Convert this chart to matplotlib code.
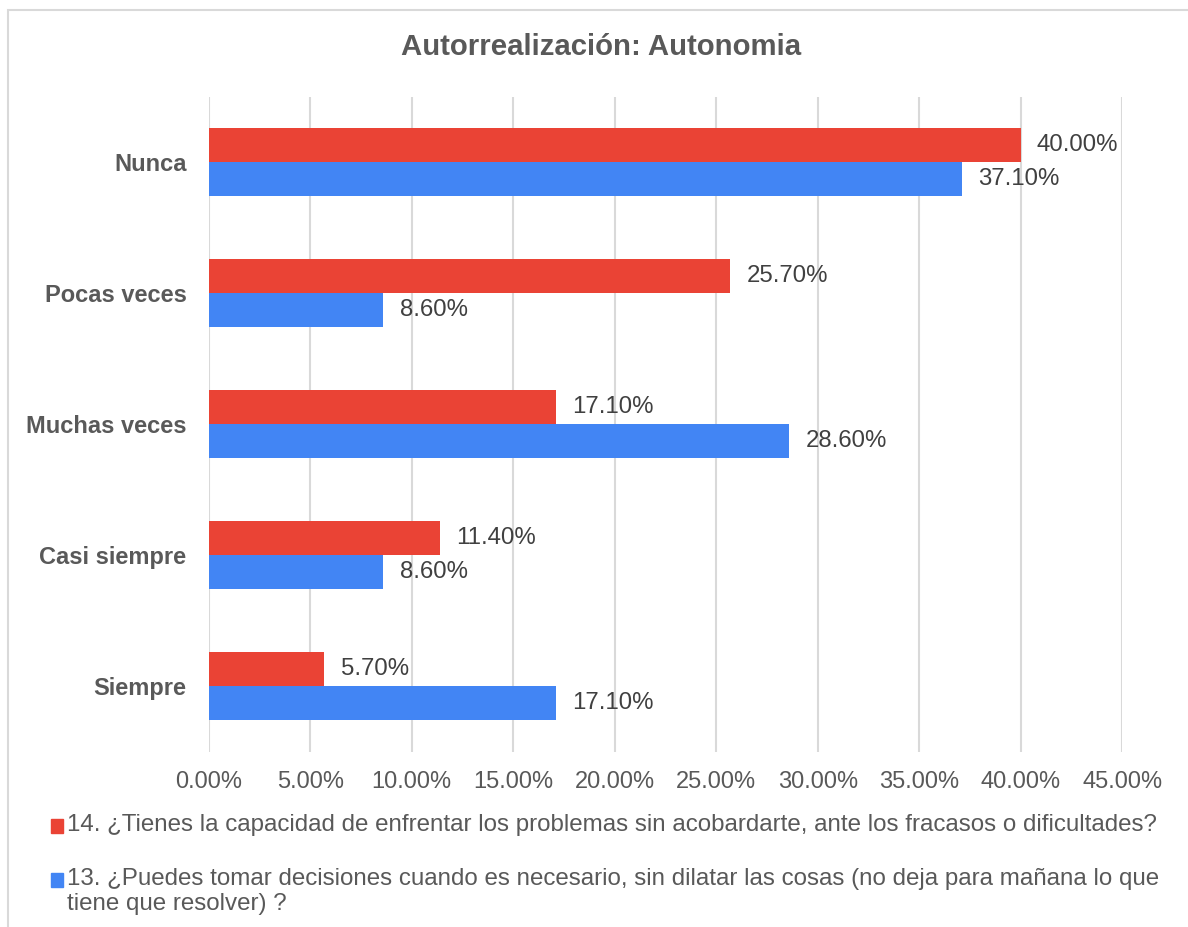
import matplotlib.pyplot as plt
from matplotlib.patches import Rectangle

plt.rcParams['font.family'] = ['Liberation Sans', 'DejaVu Sans']

# data
categories = ['Nunca', 'Pocas veces', 'Muchas veces', 'Casi siempre', 'Siempre']
q14 = [40.0, 25.7, 17.1, 11.4, 5.7]
q13 = [37.1, 8.6, 28.6, 8.6, 17.1]
ticks = [0, 5, 10, 15, 20, 25, 30, 35, 40, 45]
legend_labels = [
    '14. ¿Tienes la capacidad de enfrentar los problemas sin acobardarte, ante los fracasos o dificultades?',
    '13. ¿Puedes tomar decisiones cuando es necesario, sin dilatar las cosas (no deja para mañana lo que\ntiene que resolver) ?',
]
title = 'Autorrealización: Autonomia'

RED = '#EA4335'
BLUE = '#4285F4'
GRID = '#D9D9D9'
TXT = '#595959'

W, H = 1188, 927
fig = plt.figure(figsize=(W / 100, H / 100), dpi=100)
ax = fig.add_axes([208.7 / W, 1 - 751.5 / H, (1122.2 - 208.7) / W, (751.5 - 96.5) / H])

# outer frame (cropped on right and bottom)
fig.add_artist(Rectangle((7.5 / W, -0.05), 1.1, (1 - 9.5 / H) + 0.05, transform=fig.transFigure,
                         fill=False, edgecolor=GRID, linewidth=1.5))

ypos = list(range(len(categories)))
bh = 0.26
ax.barh([y - bh / 2 for y in ypos], q14, height=bh, color=RED, zorder=3)
ax.barh([y + bh / 2 for y in ypos], q13, height=bh, color=BLUE, zorder=3)

for y, v in zip(ypos, q14):
    ax.text(v + 0.8, y - bh / 2, f'{v:.2f}%', va='center', ha='left', fontsize=17.3, color='#404040', zorder=4)
for y, v in zip(ypos, q13):
    ax.text(v + 0.8, y + bh / 2, f'{v:.2f}%', va='center', ha='left', fontsize=17.3, color='#404040', zorder=4)

ax.set_xlim(0, 45)
ax.set_ylim(len(categories) - 0.5, -0.5)
ax.set_xticks(ticks)
ax.set_xticklabels([f'{t:.2f}%' for t in ticks], fontsize=17, color=TXT)
ax.set_yticks(ypos)
ax.set_yticklabels(categories, fontsize=17, color=TXT, fontweight='bold')
ax.tick_params(axis='both', length=0)
ax.tick_params(axis='x', pad=14)
ax.tick_params(axis='y', pad=16)
ax.grid(axis='x', color=GRID, linewidth=1.5, zorder=0)
for s in ax.spines.values():
    s.set_visible(False)

fig.text(601 / W, 1 - 47 / H, title, ha='center', va='center', fontsize=21.2, fontweight='bold', color=TXT)

# legend drawn by hand
leg_y = [826, 880]
for lbl, c, ly in zip(legend_labels, [RED, BLUE], leg_y):
    fig.add_artist(Rectangle((50.5 / W, 1 - (ly + 7) / H), 12.5 / W, 14 / H,
                             transform=fig.transFigure, color=c))
    fig.text(67 / W, 1 - (ly - 12.5) / H, lbl, ha='left', va='top', fontsize=17.4, color=TXT,
             linespacing=1.2)

fig.savefig('out.png', dpi=100)
